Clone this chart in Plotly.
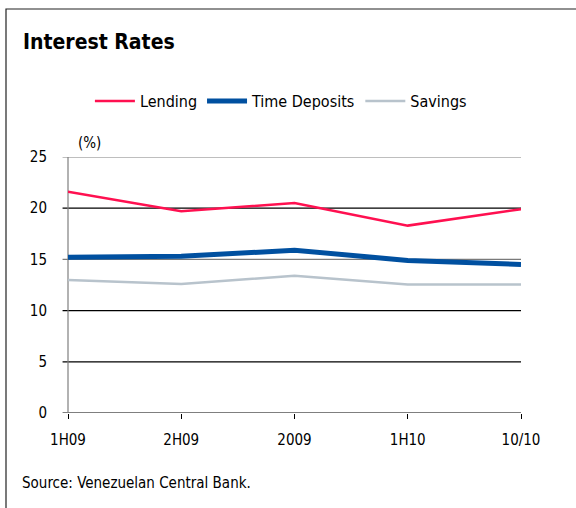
import plotly.graph_objects as go

categories = ["1H09", "2H09", "2009", "1H10", "10/10"]
lending = [21.6, 19.7, 20.5, 18.3, 19.9]
time_deposits = [15.2, 15.3, 15.9, 14.9, 14.5]
savings = [13.0, 12.6, 13.4, 12.55, 12.55]
y_ticks = [0, 5, 10, 15, 20, 25]
grid_colors = {0: "#000000", 5: "#000000", 10: "#000000", 15: "#7a7a7a", 20: "#000000", 25: "#7f7f7f"}

FONT = "DejaVu Sans Condensed, DejaVu Sans, sans-serif"

fig = go.Figure()
fig.add_trace(go.Scatter(x=categories, y=lending, name="Lending", mode="lines",
                         line=dict(color="#ff1050", width=2.5)))
fig.add_trace(go.Scatter(x=categories, y=time_deposits, name="Time Deposits", mode="lines",
                         line=dict(color="#0050a0", width=5)))
fig.add_trace(go.Scatter(x=categories, y=savings, name="Savings", mode="lines",
                         line=dict(color="#b8c3cc", width=2.5)))

shapes = []
for t in y_ticks:
    shapes.append(dict(type="line", xref="paper", yref="y", x0=-0.012, x1=1, y0=t, y1=t,
                       line=dict(color=grid_colors[t], width=1.2), layer="below"))
# y axis line
shapes.append(dict(type="line", xref="paper", yref="paper", x0=0, x1=0, y0=0, y1=1,
                   line=dict(color="#7f7f7f", width=1.2), layer="below"))
# outer border
shapes.append(dict(type="rect", xref="paper", yref="paper",
                   x0=-62/453, x1=1 + 90/453, y0=-0.55, y1=1 + 148/256,
                   line=dict(color="#222222", width=1.2), fillcolor="rgba(0,0,0,0)"))

fig.update_layout(
    width=576, height=508,
    margin=dict(l=68, r=55, t=157, b=95),
    paper_bgcolor="white", plot_bgcolor="white",
    font=dict(family=FONT, size=15, color="#000000"),
    showlegend=True,
    legend=dict(orientation="h", x=0.47, xanchor="center", y=1 + 56/256, yanchor="middle",
                font=dict(family=FONT, size=16), itemwidth=40, bgcolor="rgba(0,0,0,0)"),
    xaxis=dict(type="category", range=[0, 4], showgrid=False, showline=False,
               ticks="outside", ticklen=5, tickcolor="#000000", tickwidth=1,
               ticklabelstandoff=8,
               tickfont=dict(family=FONT, size=15), zeroline=False, fixedrange=True),
    yaxis=dict(range=[0, 25], tickvals=y_ticks, showgrid=False, showline=False,
               zeroline=False, ticks="", ticklabelstandoff=20,
               tickfont=dict(family=FONT, size=15)),
    shapes=shapes,
    annotations=[
        dict(text="<b>Interest Rates</b>", xref="paper", yref="paper", x=-47/453, y=1 + 115/256,
             xanchor="left", yanchor="middle", showarrow=False,
             font=dict(family=FONT, size=21)),
        dict(text="(%)", xref="paper", yref="paper", x=8/453, y=1 + 14/256,
             xanchor="left", yanchor="middle", showarrow=False,
             font=dict(family=FONT, size=15)),
        dict(text="Source: Venezuelan Central Bank.", xref="paper", yref="paper", x=-48/453,
             y=-70/256, xanchor="left", yanchor="middle", showarrow=False,
             font=dict(family=FONT, size=15)),
    ],
)

fig.write_html("out.html")
